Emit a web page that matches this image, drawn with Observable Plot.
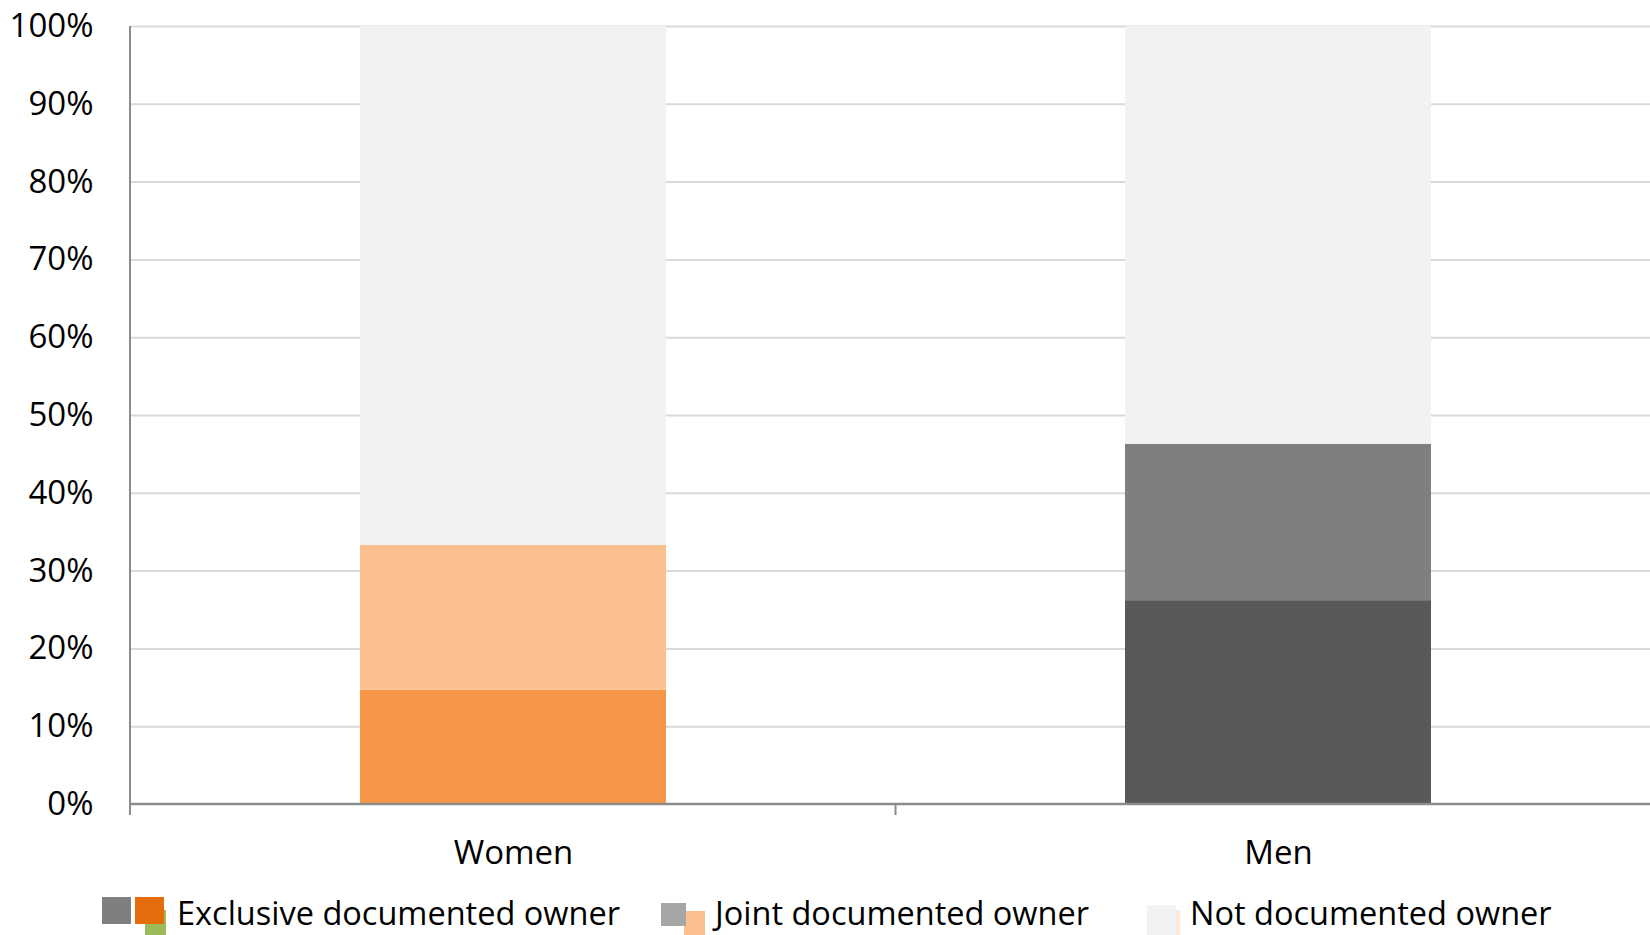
<!DOCTYPE html>
<html>
<head>
<meta charset="utf-8">
<script src="https://cdn.jsdelivr.net/npm/d3@7"></script>
<script src="https://cdn.jsdelivr.net/npm/@observablehq/plot@0.6"></script>
<style>
  html, body { margin: 0; padding: 0; background: #fff; overflow: hidden; width: 1650px; height: 935px; }
  #wrap { position: relative; width: 1650px; height: 935px; overflow: hidden; font-family: "Open Sans", sans-serif; }
  #chart svg { max-width: none !important; display: block; }
  #legend { position: absolute; left: 0; top: 0; width: 1650px; height: 935px; pointer-events: none; }
  .sw { position: absolute; }
  .lt { position: absolute; font-size: 32.5px; color: #000; white-space: nowrap; line-height: 1; }
</style>
</head>
<body>
<div id="wrap">
  <div id="chart"></div>
  <div id="legend"></div>
</div>
<script>
// ---- data ----
const categories = ["Women", "Men"];
const seriesNames = ["Exclusive documented owner", "Joint documented owner", "Not documented owner"];
const exclusive = [14.7, 26.2];
const joint = [18.6, 20.1];
const notDocumented = [66.7, 53.7];
const yTicks = [0, 10, 20, 30, 40, 50, 60, 70, 80, 90, 100];

// ---- styles ----
const barColors = {
  "Women|Exclusive documented owner": "#F79646",
  "Women|Joint documented owner": "#FAC090",
  "Women|Not documented owner": "#F2F2F2",
  "Men|Exclusive documented owner": "#595959",
  "Men|Joint documented owner": "#7F7F7F",
  "Men|Not documented owner": "#F2F2F2"
};

const seriesValues = [exclusive, joint, notDocumented];
const table = [];
categories.forEach((c, i) => {
  seriesNames.forEach((s, j) => {
    table.push({category: c, series: s, key: c + "|" + s, value: seriesValues[j][i]});
  });
});

const W = 1660, H = 880;

const axisLines = (index, scales, values, dims) => {
  const g = d3.create("svg:g");
  const x0 = dims.marginLeft, x1 = dims.width - dims.marginRight;
  const yTop = scales.y(100), yBot = scales.y(0);
  // y axis line
  g.append("line").attr("x1", x0).attr("x2", x0).attr("y1", yTop).attr("y2", yBot + 11)
    .attr("stroke", "#8C8C8C").attr("stroke-width", 2);
  // x axis line
  g.append("line").attr("x1", x0).attr("x2", x1).attr("y1", yBot).attr("y2", yBot)
    .attr("stroke", "#8C8C8C").attr("stroke-width", 2.5);
  // category boundary ticks
  const bw = scales.x.bandwidth ? scales.x.bandwidth() : 0;
  for (let i = 0; i < categories.length - 1; i++) {
    const xa = scales.x(categories[i]) + bw;
    const xb = scales.x(categories[i + 1]);
    const xm = (xa + xb) / 2;
    g.append("line").attr("x1", xm).attr("x2", xm).attr("y1", yBot).attr("y2", yBot + 11)
      .attr("stroke", "#8C8C8C").attr("stroke-width", 2);
  }
  return g.node();
};

const chart = Plot.plot({
  width: W,
  height: H,
  marginLeft: 130,
  marginRight: 0,
  marginTop: 26,
  marginBottom: 76,
  style: {fontFamily: "Open Sans, sans-serif", fontSize: "33px", color: "#000", background: "#fff", maxWidth: "none"},
  x: {domain: categories, paddingInner: 0.6, paddingOuter: 0.3, label: null},
  y: {domain: [0, 100], label: null},
  color: {domain: Object.keys(barColors), range: Object.values(barColors)},
  marks: [
    Plot.gridY(yTicks.filter(d => d > 0), {stroke: "#D9D9D9", strokeOpacity: 1, strokeWidth: 2}),
    Plot.barY(table, {x: "category", y: "value", z: "series", fill: "key", order: seriesNames}),
    Plot.axisY(yTicks, {tickSize: 0, tickPadding: 37, tickFormat: d => d + "%", label: null, fontSize: 33, fill: "#000"}),
    Plot.axisX({tickSize: 0, tickPadding: 36, label: null, fontSize: 33, fill: "#000"}),
    axisLines
  ]
});
chart.style.maxWidth = "none";
document.getElementById("chart").appendChild(chart);

// ---- legend ----
const legendItems = [
  {label: seriesNames[0], textLeft: 177, swatches: [
    {l: 145, t: 910, w: 21, h: 25, c: "#9BBB59"},
    {l: 102, t: 897, w: 29, h: 27, c: "#7F7F7F"},
    {l: 135, t: 897, w: 29, h: 27, c: "#E46C0A"}
  ]},
  {label: seriesNames[1], textLeft: 715, swatches: [
    {l: 684, t: 911, w: 21, h: 24, c: "#FAC090"},
    {l: 661, t: 903, w: 25, h: 23, c: "#A6A6A6"}
  ]},
  {label: seriesNames[2], textLeft: 1190, swatches: [
    {l: 1175, t: 910, w: 5, h: 25, c: "#FDE9D9"},
    {l: 1147, t: 905, w: 29, h: 30, c: "#F2F2F2"}
  ]}
];
const legend = document.getElementById("legend");
legendItems.forEach(it => {
  it.swatches.forEach(s => {
    const d = document.createElement("div");
    d.className = "sw";
    Object.assign(d.style, {left: s.l + "px", top: s.t + "px", width: s.w + "px", height: s.h + "px", background: s.c});
    legend.appendChild(d);
  });
  const t = document.createElement("div");
  t.className = "lt";
  t.textContent = it.label;
  t.style.left = it.textLeft + "px";
  t.style.top = "897px";
  legend.appendChild(t);
});
</script>
</body>
</html>
